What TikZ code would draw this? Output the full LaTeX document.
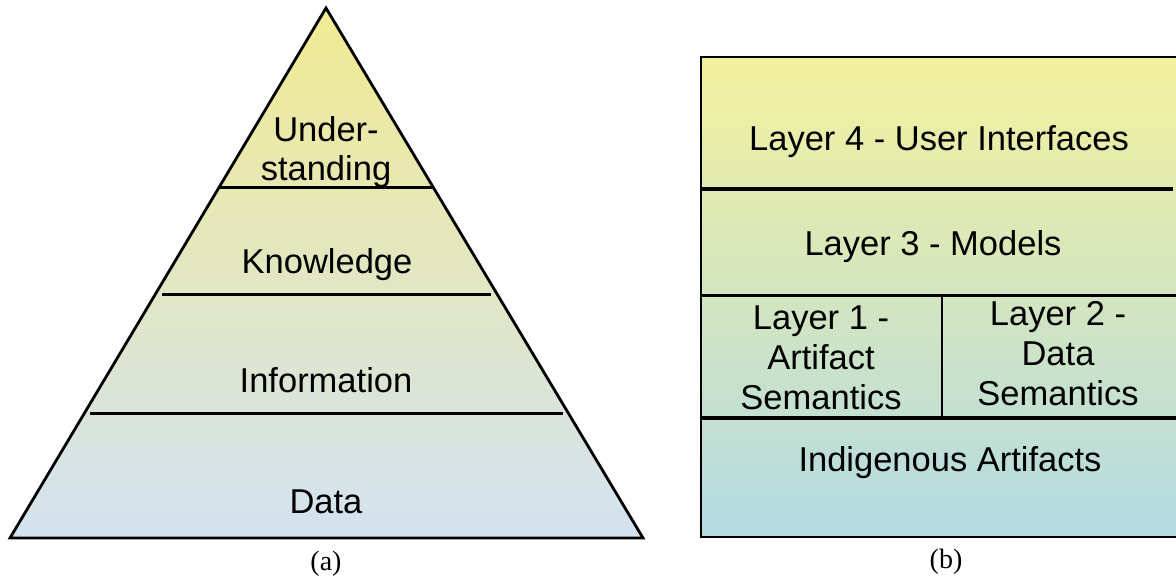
\documentclass[tikz,border=0pt]{standalone}
\usepackage{fontspec}
\setmainfont{Liberation Sans}
\newfontfamily\capfont{Liberation Serif}
\definecolor{triTop}{HTML}{F1EB92}
\definecolor{triMid}{HTML}{E0E7CC}
\definecolor{triBot}{HTML}{D3E2F1}
\definecolor{boxTop}{HTML}{F3F19D}
\definecolor{boxMid}{HTML}{D8EAC6}
\definecolor{boxBot}{HTML}{B3DAE3}
\begin{document}
\begin{tikzpicture}[x=1pt,y=-1pt,
  lbl/.style={font=\fontsize{34.5}{39}\selectfont, inner sep=0pt, align=center},
  lblb/.style={font=\fontsize{34.5}{40}\selectfont, inner sep=0pt, align=center},
  captxt/.style={font=\capfont\fontsize{28}{32}\selectfont, inner sep=0pt},
  border/.style={line width=2.8pt, line join=miter},
  divider/.style={line width=3.2pt}]
\useasboundingbox (0,0) rectangle (1176,577);
% ---------- (a) pyramid ----------
\coordinate (apex) at (326,8);
\coordinate (bl) at (10,538);
\coordinate (br) at (643,538);
\shade[top color=triTop, middle color=triMid, bottom color=triBot] (apex) -- (bl) -- (br) -- cycle;
\draw[divider] (219,187.5) -- (433,187.5);
\draw[divider] (162,294.5) -- (491,294.5);
\draw[divider] (90,413.5) -- (563,413.5);
\draw[border] (apex) -- (bl) -- (br) -- cycle;
\node[lbl] (und) at (326,152) {Under-\\standing};
\node[lbl, anchor=base] (kno) at (327,274) {Knowledge};
\node[lbl, anchor=base] (inf) at (326,392) {Information};
\node[lbl, anchor=base] (dat) at (326,513) {Data};
\node[captxt, anchor=base] (capa) at (326,570) {(a)};
% ---------- (b) layers ----------
\shade[top color=boxTop, middle color=boxMid, bottom color=boxBot] (701,57) rectangle (1176,537);
\draw[border] (1176,57) -- (701,57) -- (701,537) -- (1176,537);
\draw[divider] (701,189) -- (1173,189);
\draw[divider] (701,295.5) -- (1176,295.5);
\draw[divider] (701,418) -- (1176,418);
\draw[border] (942,295.5) -- (942,418);
\node[lbl, anchor=base] (l4) at (939,151) {Layer 4 - User Interfaces};
\node[lbl, anchor=base] (l3) at (933,256) {Layer 3 - Models};
\node[lblb] (l1) at (821,357.6) {Layer 1 -\\Artifact\\Semantics};
\node[lblb] (l2) at (1058,353.6) {Layer 2 -\\Data\\Semantics};
\node[lbl, anchor=base] (ind) at (950,471) {Indigenous Artifacts};
\node[captxt, anchor=base] (capb) at (946,568) {(b)};
\end{tikzpicture}
\end{document}
